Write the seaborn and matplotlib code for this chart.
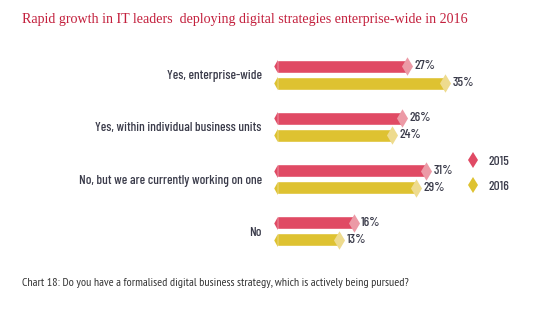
import matplotlib
matplotlib.use("Agg")
import matplotlib.pyplot as plt
import seaborn as sns
import pandas as pd
from matplotlib.lines import Line2D

categories = ["Yes, enterprise-wide", "Yes, within individual business units",
              "No, but we are currently working on one", "No"]
years = ["2015", "2016"]
values_2015 = [27, 26, 31, 16]
values_2016 = [35, 24, 29, 13]

colors = {"2015": "#e04a64", "2016": "#dec231"}
light = {"2015": "#ec9aa6", "2016": "#eedb8e"}
text_col = "#3a3b4a"

df = pd.DataFrame({
    "category": categories * 2,
    "year": ["2015"] * 4 + ["2016"] * 4,
    "value": values_2015 + values_2016,
})

sns.set_theme(style="white")
narrow = ["Barlow Condensed", "DejaVu Sans"]
plt.rcParams["font.family"] = narrow

PX_PER = 4.8
fig = plt.figure(figsize=(5.33, 3.27), dpi=100)
ax = fig.add_axes([277 / 533, 0.2125, 200 / 533, 0.639])

sns.barplot(data=df, y="category", x="value", hue="year", order=categories,
            hue_order=years, palette=colors, orient="h", width=0.65, gap=0.23,
            legend=False, ax=ax, saturation=1)

ax.set_xlim(0, 200 / PX_PER)
ax.set_ylim(3.5, -0.5)

left_tip = [(-0.5, 0), (0.05, 1), (0.05, -1)]
offsets = {"2015": -0.1625, "2016": 0.1625}
for yr, vals in zip(years, [values_2015, values_2016]):
    ys = [i + offsets[yr] for i in range(len(categories))]
    ax.scatter(vals, ys, marker="d", s=88, color=light[yr], linewidths=0, zorder=3, clip_on=False)
    ax.scatter([0] * len(vals), ys, marker=left_tip, s=88, color=colors[yr], linewidths=0,
               zorder=3, clip_on=False)
    for v, y in zip(vals, ys):
        ax.text(v + 7.5 / PX_PER, y, f"{v}%", va="center", ha="left", fontsize=9.5,
                color=text_col, fontweight="medium")

ax.set_xlabel("")
ax.set_ylabel("")
ax.set_xticks([])
ax.tick_params(axis="y", length=0, pad=11, labelsize=9.5, labelcolor=text_col)
for lab in ax.get_yticklabels():
    lab.set_fontweight("medium")
sns.despine(ax=ax, left=True, bottom=True)

handles = [Line2D([], [], marker="d", linestyle="none", markersize=8.5,
                  markerfacecolor=colors[y], markeredgewidth=0) for y in years]
leg = fig.legend(handles, years, loc="upper left", bbox_to_anchor=(453 / 533, 1 - 144 / 327),
                 frameon=False, labelspacing=0.95, handlelength=1.2, handletextpad=0.6,
                 fontsize=9.5)
for t in leg.get_texts():
    t.set_color(text_col)
    t.set_fontweight("medium")

fig.text(22 / 533, 1 - 20 / 327,
         "Rapid growth in IT leaders  deploying digital strategies enterprise-wide in 2016",
         family=["Liberation Serif", "DejaVu Serif"], fontsize=10.1, color="#c3203d",
         va="center", ha="left")
fig.text(22 / 533, 1 - 283 / 327,
         "Chart 18: Do you have a formalised digital business strategy, which is actively being pursued?",
         family=["PT Sans Narrow", "Barlow Condensed", "DejaVu Sans"],
         fontsize=8.6, color="#333333", va="center", ha="left")

fig.savefig("out.png", dpi=100, facecolor="white")
